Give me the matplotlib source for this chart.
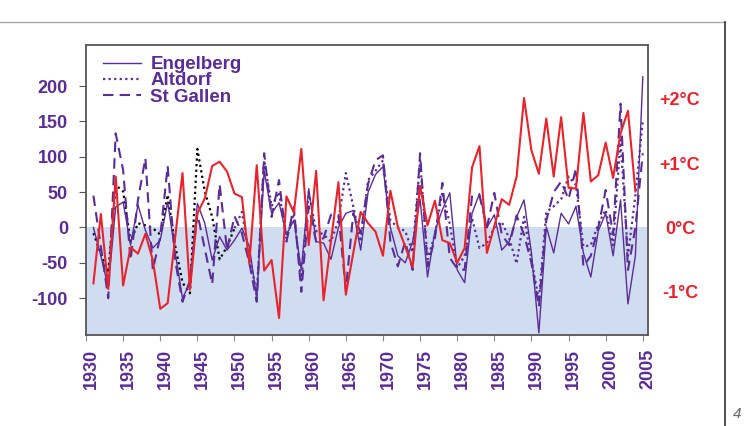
import matplotlib
matplotlib.use('Agg')
import matplotlib.pyplot as plt
from matplotlib.lines import Line2D
from matplotlib.transforms import ScaledTranslation

plt.rcParams['font.family'] = ['Liberation Sans', 'DejaVu Sans']
plt.rcParams['axes.unicode_minus'] = False

purple = '#5a2d96'
red = '#e8232b'

# precipitation anomalies, 1931-2005
years = list(range(1931, 2006))
engelberg = [0, -40, -85, 29, 36, -25, 32, -4, -29, -18, 36, -35, -100, -78, 34, 6, -46, -13, -32, -18,
             -1, -27, -100, 80, 20, 35, -10, 10, -60, 55, -20, -22, -45, 0, 20, 24, -32, 50, 75, 86,
             0, -40, -50, -20, 40, -70, -5, 25, 49, -60, -78, 20, 48, 0, 18, -32, -20, 15, 39, -36,
             -149, 1, -36, 20, 5, 30, -36, -70, -5, 20, -40, 39, -108, -40, 213]
altdorf = [-8, -37, -64, 60, 51, -20, 6, 3, -1, -10, 46, -25, -78, -93, 111, 51, 15, -45, -27, -1,
           22, -40, -95, 95, 30, 50, -15, 20, -75, 50, -5, -10, -20, 10, 77, 30, -20, 67, 80, 95,
           10, 0, -5, -35, 95, -45, -10, 50, 5, -57, -40, 13, -29, -22, 0, 8, -15, -51, 15, -45,
           -103, 22, 30, 40, 72, 60, -27, -25, 5, 25, -25, 124, -40, 45, 152]
stgallen = [45, -27, -100, 133, 81, -46, 39, 98, -60, -13, 87, -46, -105, -75, 20, -30, -80, 61, -32, 16,
            -8, -50, -105, 105, 15, 67, -20, 29, -91, 30, -20, -15, 18, 18, -88, 20, -8, 62, 95, 102,
            -20, -55, -20, -60, 105, -55, -15, 63, -43, -58, -60, 45, 45, 0, 49, -10, -25, 17, -10, -50,
            -112, 10, 50, 65, 40, 84, -55, -40, 0, 53, -10, 175, -60, 0, 105]

# temperature anomaly (scaled to left axis, 1 degC = 91), 1931-2004
temp_years = list(range(1931, 2005))
temperature = [-79, 19, -87, 72, -82, -28, -37, -9, -46, -115, -107, -15, 77, -88, 20, 41, 87, 93, 79, 48,
               43, -51, 88, -61, -46, -128, 44, 21, 111, -25, 80, -103, -19, 64, -95, -36, 22, 6, -6, -40,
               52, 1, -27, -56, 59, 3, 38, -18, -22, -50, -29, 85, 115, -36, 2, 40, 32, 72, 183, 109,
               76, 154, 72, 156, 56, 55, 162, 65, 74, 120, 70, 133, 165, 51]

left_ticks = [-100, -50, 0, 50, 100, 150, 200]
year_ticks = list(range(1930, 2006, 5))
temp_ticks = [-1, 0, 1, 2]
temp_labels = ['-1°C', '0°C', '+1°C', '+2°C']
deg = 91
ymin, ymax = -152, 258

fig = plt.figure(figsize=(7.52, 4.26), dpi=100)
ax = fig.add_axes([86/752, 91/426, 562/752, 290/426])

ax.axhspan(ymin, 0, color='#d0dcef', zorder=0, lw=0)

split = years.index(1950) + 1
ax.plot(years[:split], altdorf[:split], color='black', ls=(0, (1, 1.5)), lw=1.6, zorder=3)
ax.plot(years[split - 1:], altdorf[split - 1:], color=purple, ls=(0, (1, 1.5)), lw=1.6, zorder=3)
ax.plot(years, stgallen, color=purple, ls=(0, (5, 3)), lw=1.5, zorder=3)
ax.plot(years, engelberg, color=purple, lw=1.0, zorder=3)
ax.plot(temp_years, temperature, color=red, lw=1.5, zorder=4)

ax.set_xlim(1930, 2005.7)
ax.set_ylim(ymin, ymax)
ax.set_yticks(left_ticks)
ax.set_xticks(year_ticks)
ax.set_xticklabels([str(y) for y in year_ticks], rotation=90)
ax.tick_params(axis='y', labelsize=13, labelcolor=purple, length=5, pad=8, color='#555555')
ax.tick_params(axis='x', labelsize=13, labelcolor=purple, length=4, pad=6, color='#888888')
for lbl in ax.get_yticklabels() + ax.get_xticklabels():
    lbl.set_fontweight('bold')
for lbl in ax.get_xticklabels():
    lbl.set_transform(lbl.get_transform() + ScaledTranslation(5/100, 0, fig.dpi_scale_trans))
for s in ax.spines.values():
    s.set_color('#555555')
    s.set_linewidth(1.3)

sec = ax.secondary_yaxis('right', functions=(lambda v: v/deg, lambda t: t*deg))
sec.set_yticks(temp_ticks)
sec.set_yticklabels(temp_labels)
sec.tick_params(length=0, pad=23, labelsize=13, labelcolor=red)
sec.spines['right'].set_visible(False)
for lbl in sec.get_yticklabels():
    lbl.set_fontweight('bold')
    lbl.set_horizontalalignment('center')

handles = [Line2D([], [], color=purple, lw=1.0),
           Line2D([], [], color=purple, ls=(0, (1, 1.5)), lw=1.6),
           Line2D([], [], color=purple, ls=(0, (5, 3)), lw=1.5)]
leg = ax.legend(handles, ['Engelberg', 'Altdorf', 'St Gallen'], loc='upper left',
                bbox_to_anchor=(0.001, 1.02), frameon=False, handlelength=2.0,
                handletextpad=0.5, labelspacing=-0.05, prop={'size': 13.5, 'weight': 'bold'})
for t in leg.get_texts():
    t.set_color(purple)

# page frame
fig.add_artist(Line2D([0, 725/752], [1 - 22/426, 1 - 22/426], color='#aaaaaa', lw=1))
fig.add_artist(Line2D([725/752, 725/752], [0, 1 - 22/426], color='#333333', lw=1.2))
fig.text(737/752, 1 - 414/426, '4', color='#666666', fontsize=11, style='italic', ha='center', va='center')

fig.savefig('out.png', dpi=100)
